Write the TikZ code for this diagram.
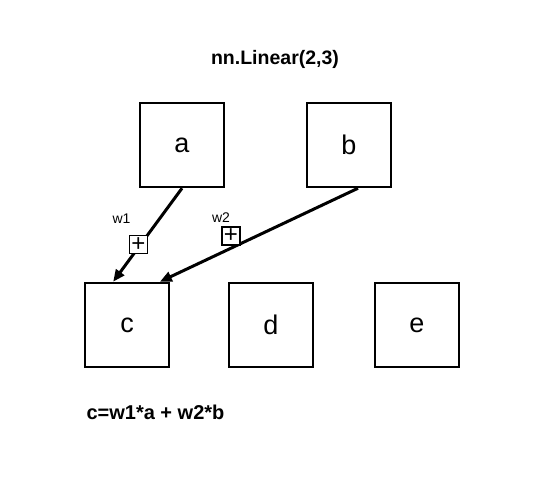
\documentclass[tikz,border=0pt]{standalone}
\usepackage{fontspec}
\setmainfont{Liberation Sans}
\usetikzlibrary{arrows.meta,positioning,calc}

\begin{document}
\begin{tikzpicture}[x=1pt,y=-1pt,
  >={Triangle[length=12pt,width=10pt]},
  unit/.style={draw, line width=2.5pt, minimum size=84pt, inner sep=0pt, font=\fontsize{27}{30}\selectfont},
  adder/.style={draw, fill=white, line width=1.4pt, minimum size=18pt, inner sep=0pt, font=\fontsize{24}{24}\selectfont},
  wlabel/.style={font=\fontsize{14}{16}\selectfont},
  link/.style={line width=3pt, ->},
]
\useasboundingbox (0,0) rectangle (540,486);
\node[font=\bfseries\fontsize{19.5}{22}\selectfont] (title) at (275,59) {nn.Linear(2,3)};
\node[unit] (a) at (182,145) {a};
\node[unit] (b) at (349,145) {b};
\node[unit] (c) at (127,325) {c};
\node[unit] (d) at (271,325) {d};
\node[unit] (e) at (417,325) {e};
\node[wlabel] (w1) at (121.5,219) {w1};
\node[wlabel] (w2) at (221,218) {w2};
\coordinate (c1) at ($(c.north west)!0.34!(c.north east)$);
\coordinate (c2) at ($(c.north west)!0.88!(c.north east)$);
\coordinate (b1) at ($(b.south)+(9,0)$);
\draw[link] (a.south) -- (c1);
\draw[link] (b1) -- (c2);
\node[adder] (p1) at (138.5,244.5) {+};
\node[adder] (p2) at (231,236) {+};
\node[font=\bfseries\fontsize{20}{22}\selectfont, anchor=west] (formula) at (83,412) {c=w1*a + w2*b};
\end{tikzpicture}
\end{document}
